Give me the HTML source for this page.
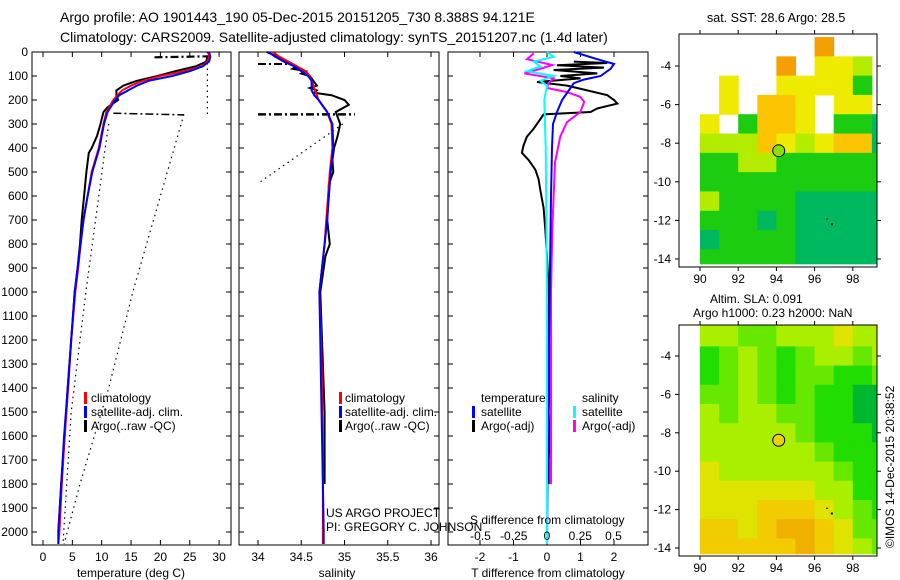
<!DOCTYPE html>
<html><head><meta charset="utf-8"><style>
body{margin:0;background:#fff}
svg{display:block;font-family:"Liberation Sans",sans-serif}
text{font-size:12px;fill:#000}
</style></head><body>
<svg id="fig" width="900" height="580" viewBox="0 0 900 580" xmlns="http://www.w3.org/2000/svg">
<text x="60" y="22" style="font-size:14px">Argo profile: AO 1901443_190 05-Dec-2015 20151205_730 8.388S 94.121E</text>
<text x="60" y="42" style="font-size:14px">Climatology: CARS2009. Satellite-adjusted climatology: synTS_20151207.nc (1.4d later)</text>
<text x="707" y="22" style="font-size:12.5px">sat. SST: 28.6 Argo: 28.5</text>
<text x="710" y="303">Altim. SLA: 0.091</text>
<text x="693" y="317">Argo h1000: 0.23 h2000: NaN</text>
<text transform="translate(894,548) rotate(-90)">©IMOS 14-Dec-2015 20:38:52</text>
<g id="plots"></g>
</svg>
<script>
// ---------- data ----------
const depthTicks=[0,100,200,300,400,500,600,700,800,900,1000,1100,1200,1300,1400,1500,1600,1700,1800,1900,2000];
const tTicks=[0,5,10,15,20,25,30];
const sTicks=[34,34.5,35,35.5,36];
const dTTicks=[-2,-1,0,1,2];
const dSTicks=[-0.5,-0.25,0,0.25,0.5];
const dSTickLabels=['-0.5','-0.25','0','0.25','0.5'];

const climDepth=[0,20,40,60,80,100,120,140,160,180,200,250,300,400,500,600,700,800,900,1000,1200,1400,1600,1800,2000,2050];
const climTemp=[28.2,28.3,28.0,27.0,24.0,20.0,17.0,15.0,13.5,12.7,12.0,10.8,10.3,9.5,8.3,7.6,6.9,6.4,6.0,5.5,4.8,4.3,3.7,3.2,2.8,2.6];
const satTemp=[28.3,28.5,28.3,27.2,25.0,22.0,18.0,16.0,14.5,13.0,12.3,11.0,10.4,9.6,8.4,7.6,6.9,6.4,5.9,5.4,4.8,4.2,3.6,3.1,2.6,2.6];
const argoTDepth=[20,40,60,80,100,120,140,160,180,200,230,250,300,350,400,420,500,600,700,800,900,1000,1200,1400,1600,1800,2000];
const argoTemp=[28.0,27.8,26.0,22.5,19.5,16.0,13.7,12.5,12.5,12.8,11.0,10.3,9.8,9.2,8.3,7.8,7.4,7.0,6.6,6.3,5.9,5.4,4.8,4.2,3.7,3.1,2.6];
const dotTDepth=[300,400,1000,1500,2050];
const dotTemp=[11.2,10.6,7.3,4.8,3.4];
const diagTDepth=[260,1000,1400,1800,2050];
const diagTemp=[24,15.3,11.2,6.3,3.6];

const climSal=[34.17,34.25,34.35,34.45,34.55,34.6,34.62,34.64,34.66,34.68,34.7,34.8,34.85,34.86,34.83,34.81,34.79,34.77,34.74,34.71,34.73,34.74,34.745,34.75,34.75,34.75];
const satSal=[34.12,34.2,34.3,34.42,34.5,34.58,34.62,34.62,34.62,34.65,34.7,34.8,34.86,34.87,34.84,34.82,34.8,34.77,34.74,34.71,34.72,34.73,34.74,34.75,34.76,34.76];
const argoSDepth=[0,40,60,70,80,90,100,140,150,160,170,180,200,220,250,300,350,400,450,500,550,700,800,850,1000,1500,1800];
const argoSal=[34.1,34.35,34.45,34.4,34.55,34.5,34.6,34.68,34.6,34.68,34.65,34.85,35.0,35.05,34.9,34.95,34.92,34.88,34.86,34.87,34.82,34.8,34.83,34.78,34.72,34.77,34.77];
const ddSDepth=[300,540];
const ddSal=[34.98,34.03];

const satDTDepth=[0,30,50,70,100,115,130,150,200,250,300,400,600,1000,1500,2050];
const satDT=[0.8,1.5,2.0,1.9,1.6,1.1,0.8,0.7,0.45,0.3,0.18,0.15,0.12,0.08,0.03,0];
const argoDTDepth=[40,46,55,65,75,89,100,110,125,140,160,180,200,215,235,250,260,280,320,353,390,420,450,490,530,575,650,740,850,1000,1200,1500,1700,1800];
const argoDT=[0.8,1.8,0.3,1.7,0.2,1.5,0.4,1.0,-0.3,0.6,1.2,1.8,2.0,2.1,1.5,1.3,-0.1,-0.2,-0.4,-0.6,-0.7,-0.75,-0.55,-0.35,-0.25,-0.2,-0.1,-0.05,0,0.05,0.05,0.1,0.05,0.05];
const satDSDepth=[0,20,40,60,80,100,120,140,200,400,1000,2050];
const satDS=[0,0.05,-0.1,-0.05,-0.15,0.05,-0.05,0,-0.02,-0.01,0,0];
const argoDSDepth=[5,30,54,70,89,110,130,150,167,187,208,250,292,352,460,740,1000,1500,1800];
const argoDS=[-0.1,-0.15,0.04,-0.05,-0.17,0.05,0.01,0.0,0.15,0.25,0.28,0.25,0.15,0.1,0.06,0.04,0.03,0.03,0.03];

const lonTicks=[90,92,94,96,98];
const sstLatTicks=[-4,-6,-8,-10,-12,-14];
const slaLatTicks=[-4,-6,-8,-10,-12,-14];
const gridLons=[90,91,92,93,94,95,96,97,98,99];
const sstRowLat=[-2.5,-3.5,-4.5,-5.5,-6.5,-7.5,-8.5,-9.5,-10.5,-11.5,-12.5,-13.5];
const sstGrid=[
[0,0,0,0,0,0,1,0,0,0],
[0,0,0,0,1,0,3,3,4,0],
[0,3,0,0,3,3,3,3,5,0],
[0,3,0,2,2,3,0,3,3,0],
[3,0,5,2,2,3,0,5,5,6],
[4,4,4,2,3,4,3,2,2,6],
[5,5,4,4,5,5,5,5,5,5],
[5,5,5,5,5,5,5,5,5,5],
[4,5,5,5,5,6,6,6,6,6],
[5,5,5,6,5,6,6,6,6,6],
[6,5,5,5,5,6,6,6,6,6],
[5,5,5,5,5,6,6,6,6,6]];
const slaRowLat=[-2.4,-3.5,-4.5,-5.5,-6.5,-7.5,-8.5,-9.5,-10.5,-11.5,-12.5,-13.5];
const slaGrid=[
[3,3,2,2,3,3,3,4,3,3],
[1,2,3,2,1,2,3,3,2,3],
[1,2,3,2,1,2,2,1,1,2],
[2,2,3,2,1,2,1,1,0,0],
[3,2,3,3,2,2,1,1,0,0],
[3,3,3,3,3,2,1,1,1,0],
[3,3,3,3,3,3,2,1,1,1],
[4,3,3,3,3,3,3,2,1,1],
[4,4,4,4,4,4,3,3,1,1],
[4,4,4,5,5,5,4,3,2,1],
[5,5,4,5,6,6,5,4,2,2],
[5,5,5,5,5,6,5,4,3,2]];
const argoLon=94.121, argoLat=-8.388;

// ---------- helpers ----------
const NS='http://www.w3.org/2000/svg';
const root=document.getElementById('plots');
function mk(tag,at,parent){const e=document.createElementNS(NS,tag);for(const k in at)e.setAttribute(k,at[k]);(parent||root).appendChild(e);return e;}
function txt(x,y,s,anchor){const e=mk('text',{x:x,y:y,'text-anchor':anchor||'start'});e.textContent=s;return e;}
const yD=d=>52+d*0.24;
const xT=t=>43+t*5.87;
const xS=s=>258+(s-34)*86.5;
const xDT=v=>547+v*33.5;
const xDS=v=>547+v*133;
function poly(xs,ds,fx,color,w,dash,name){
  const pts=xs.map((v,i)=>fx(v).toFixed(1)+','+yD(ds[i]).toFixed(1)).join(' ');
  const p=mk('polyline',{points:pts,fill:'none',stroke:color,'stroke-width':w});
  if(dash)p.setAttribute('stroke-dasharray',dash);
  
  
  return p;
}
function frame(x0,x1,name){
  const r=mk('rect',{x:x0,y:52,width:x1-x0,height:493,fill:'none',stroke:'#000','stroke-width':1});
  
  
  depthTicks.forEach(d=>{mk('line',{x1:x0,x2:x0+5,y1:yD(d),y2:yD(d),stroke:'#000'});mk('line',{x1:x1,x2:x1-5,y1:yD(d),y2:yD(d),stroke:'#000'});});
}
function legendBar(x,y,color){mk('rect',{x:x,y:y-10,width:3,height:12,fill:color});}

// ---------- panel 1: temperature ----------
frame(32,231,'temperature-panel');
depthTicks.forEach(d=>{const t=txt(28,yD(d)+4,String(d),'end');});
tTicks.forEach(v=>{mk('line',{x1:xT(v),x2:xT(v),y1:545,y2:540,stroke:'#000'});mk('line',{x1:xT(v),x2:xT(v),y1:52,y2:57,stroke:'#000'});const t=txt(xT(v),561,String(v),'middle');});
{const t=txt(131,577,'temperature (deg C)','middle');}
poly([28,28],[0,260],xT,'#000',1.2,'1.5,4','temp-dotted-surface');
poly(diagTemp,diagTDepth,xT,'#000',1.2,'1.5,4','temp-dotted-diagonal');
poly(dotTemp,dotTDepth,xT,'#000',1.2,'1.5,4','temp-dotted-offset');
poly([19,28.3],[22,18],xT,'#000',2.2,'8,3,2,3','temp-dashdot-surface');
poly([12,24],[255,262],xT,'#000',1.5,'8,3,2,3','temp-dashdot-260');
poly(argoTemp,argoTDepth,xT,'#000',2,null,'argo-temperature-line');
poly(climTemp,climDepth,xT,'#f00',2,null,'climatology-temperature-line');
poly(satTemp,climDepth,xT,'#00f',2,null,'satellite-temperature-line');
[['climatology','#f00'],['satellite-adj. clim.','#00f'],['Argo(..raw -QC)','#000']].forEach((l,i)=>{legendBar(84,402+i*14,l[1]);const t=txt(91,402+i*14,l[0]);});

// ---------- panel 2: salinity ----------
frame(239,439,'salinity-panel');
sTicks.forEach(v=>{mk('line',{x1:xS(v),x2:xS(v),y1:545,y2:540,stroke:'#000'});mk('line',{x1:xS(v),x2:xS(v),y1:52,y2:57,stroke:'#000'});const t=txt(xS(v),561,String(v),'middle');});
{const t=txt(337,577,'salinity','middle');}
poly(ddSal,ddSDepth,xS,'#000',1.2,'1.5,4','sal-dotted-diagonal');
poly([34.0,34.4],[50,50],xS,'#000',2,'8,3,2,3','sal-dashdot-50');
poly([34.0,35.12],[260,260],xS,'#000',2.5,'8,3,2,3','sal-dashdot-260');
poly(argoSal,argoSDepth,xS,'#000',2,null,'argo-salinity-line');
poly(climSal,climDepth,xS,'#f00',2,null,'climatology-salinity-line');
poly(satSal,climDepth,xS,'#00f',2,null,'satellite-salinity-line');
[['climatology','#f00'],['satellite-adj. clim.','#00f'],['Argo(..raw -QC)','#000']].forEach((l,i)=>{legendBar(339,402+i*14,l[1]);const t=txt(345,402+i*14,l[0]);});

// ---------- panel 3: differences ----------
frame(448,648,'difference-panel');
dTTicks.forEach(v=>{mk('line',{x1:xDT(v),x2:xDT(v),y1:545,y2:540,stroke:'#000'});mk('line',{x1:xDT(v),x2:xDT(v),y1:52,y2:57,stroke:'#000'});const t=txt(xDT(v),561,String(v),'middle');});
{const t=txt(548,577,'T difference from climatology','middle');}
poly(argoDT,argoDTDepth,xDT,'#000',2,null,'argo-t-diff-line');
poly(argoDS,argoDSDepth,xDS,'#f0f',2,null,'argo-s-diff-line');
poly(satDT,satDTDepth,xDT,'#00f',2,null,'satellite-t-diff-line');
poly(satDS,satDSDepth,xDS,'#0ff',2,null,'satellite-s-diff-line');
{const t=txt(470,524,'S difference from climatology');}
dSTicks.forEach((v,i)=>{const t=txt(xDS(v),540,dSTickLabels[i],'middle');});
{const t=txt(481,402,'temperature');}
{const t=txt(582,402,'salinity');}
[['satellite','#00f',472],['Argo(-adj)','#000',472],['satellite','#0ff',573],['Argo(-adj)','#f0f',573]].forEach((l,i)=>{const y=416+(i%2)*14;legendBar(l[2],y,l[1]);const t=txt(l[2]+9,y,l[0]);});
{const t=txt(326,517,'US ARGO PROJECT');}
{const t=txt(326,531,'PI: GREGORY C. JOHNSON');}

// ---------- maps ----------
const sstColors=['none','#f5a000','#fcc400','#eeea00','#b4ec00','#1ccc10','#00b860'];
const slaColors=['#00b830','#22dd00','#66e800','#aaee00','#dfe300','#f0cc00','#f0b000'];
function drawMap(cfg){
  const g=mk('g',{});
  
  
  const xL=lon=>700+(lon-90)*19.1;
  const yL=lat=>cfg.y4+(-4-lat)*cfg.sc;
  const cp=mk('clipPath',{id:cfg.name+'-clip'},g);
  mk('rect',{x:679,y:cfg.top,width:198,height:cfg.bot-cfg.top},cp);
  const cg=mk('g',{'clip-path':'url(#'+cfg.name+'-clip)'},g);
  cfg.grid.forEach((row,r)=>{const lat0=cfg.rows[r];const lat1=r+1<cfg.rows.length?cfg.rows[r+1]:cfg.minLat;
    row.forEach((v,c)=>{const col=cfg.colors[v];if(col==='none')return;
      const x0=xL(gridLons[c]),x1=xL(gridLons[c]+1);
      const c2=mk('rect',{x:x0,y:yL(lat0),width:x1-x0+0.5,height:yL(lat1)-yL(lat0)+0.5,fill:col},cg);
      
      });});
  mk('rect',{x:679,y:cfg.top,width:198,height:cfg.bot-cfg.top,fill:'none',stroke:'#000'},g);
  lonTicks.forEach(l=>{mk('line',{x1:xL(l),x2:xL(l),y1:cfg.top,y2:cfg.top-4,stroke:'#000'},g);mk('line',{x1:xL(l),x2:xL(l),y1:cfg.bot,y2:cfg.bot+4,stroke:'#000'},g);const t=txt(xL(l),cfg.bot+16,String(l),'middle');});
  cfg.latTicks.forEach(l=>{mk('line',{x1:679,x2:675,y1:yL(l),y2:yL(l),stroke:'#000'},g);mk('line',{x1:877,x2:881,y1:yL(l),y2:yL(l),stroke:'#000'},g);const t=txt(671,yL(l)+4,String(l),'end');});
  const m=mk('circle',{cx:xL(argoLon),cy:yL(argoLat),r:6,fill:cfg.marker,stroke:'#000'},g);
  
  
  mk('rect',{x:xL(96.6),y:yL(-11.9),width:2,height:1,fill:'#000'},g);
  mk('rect',{x:xL(96.85),y:yL(-12.15),width:2,height:2,fill:'#000'},g);
}
drawMap({name:'sst-map',top:34,bot:267,y4:66,sc:19.3,grid:sstGrid,rows:sstRowLat,minLat:-14.25,colors:sstColors,latTicks:sstLatTicks,marker:'#8ee000'});
drawMap({name:'sla-map',top:325,bot:556,y4:356,sc:19.2,grid:slaGrid,rows:slaRowLat,minLat:-14.3,colors:slaColors,latTicks:slaLatTicks,marker:'#f0d000'});
</script>
</body></html>
